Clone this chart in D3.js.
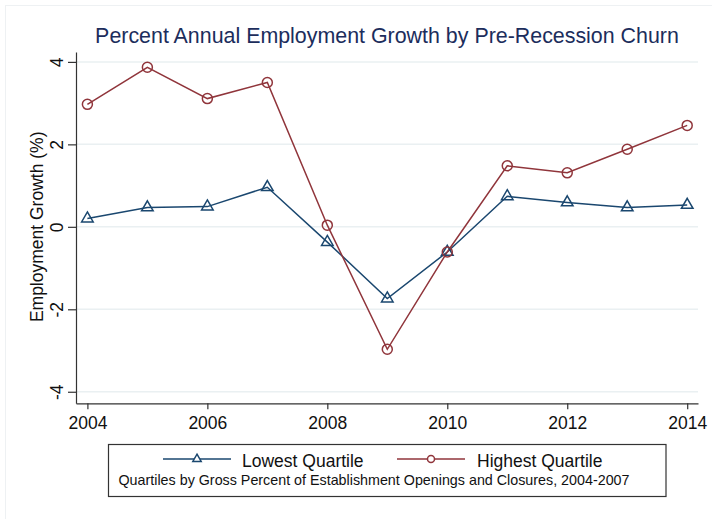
<!DOCTYPE html>
<html>
  <head>
    <meta charset="utf-8">
    <style>
      body { margin: 0; background: #fff; }
      svg { display: block; font-family: "Liberation Sans", Arial, Helvetica, sans-serif; }
      .grid line { stroke: #eaf0f2; stroke-width: 1.5; }
      .axis path, .axis line { stroke: #333; stroke-width: 1.2; }
      .axis text { font-size: 17.5px; fill: #111; }
      .series { fill: none; stroke-width: 1.5; }
    </style>
  </head>
  <body>
    <script src="https://d3js.org/d3.v7.min.js"></script>
    <svg></svg>
    <script>
      // data
      const years = [2004, 2005, 2006, 2007, 2008, 2009, 2010, 2011, 2012, 2013, 2014];
      const lowest = [0.2, 0.47, 0.49, 0.96, -0.37, -1.74, -0.61, 0.74, 0.59, 0.47, 0.53];
      const highest = [2.97, 3.87, 3.11, 3.5, 0.04, -2.97, -0.61, 1.48, 1.31, 1.88, 2.46];
      const yTicks = [-4, -2, 0, 2, 4];
      const xTicks = [2004, 2006, 2008, 2010, 2012, 2014];
      const seriesNames = ["Lowest Quartile", "Highest Quartile"];
      const colors = ["#1a476f", "#90353b"];

      const W = 712, H = 519;
      const plot = { left: 76, right: 698, top: 52, bottom: 403.3 };

      const svg = d3.select("svg").attr("width", W).attr("height", H);

      // faint outer frame
      svg.append("rect")
        .attr("x", 5.5).attr("y", 5.5)
        .attr("width", W + 20).attr("height", H + 20)
        .attr("fill", "none").attr("stroke", "#eef1f3").attr("stroke-width", 1);

      const x = d3.scaleLinear().domain([2003.81, 2014.18]).range([plot.left, plot.right]);
      const y = d3.scaleLinear().domain([-4.28, 4.24]).range([plot.bottom, plot.top]);

      // title
      svg.append("text")
        .attr("x", (plot.left + plot.right) / 2)
        .attr("y", 43)
        .attr("text-anchor", "middle")
        .attr("font-size", 21.4)
        .attr("fill", "#1c2d5c")
        .text("Percent Annual Employment Growth by Pre-Recession Churn");

      // gridlines
      svg.append("g").attr("class", "grid")
        .selectAll("line").data(yTicks).enter().append("line")
        .attr("x1", plot.left + 1).attr("x2", plot.right)
        .attr("y1", d => y(d)).attr("y2", d => y(d));

      // y axis
      const yAxis = svg.append("g").attr("class", "axis")
        .attr("transform", `translate(${plot.left},0)`)
        .call(d3.axisLeft(y).tickValues(yTicks).tickFormat(d => String(d)).tickSize(8).tickSizeOuter(0));
      yAxis.selectAll("text")
        .attr("transform", "rotate(-90)")
        .attr("text-anchor", "middle")
        .attr("x", 0).attr("y", -13.5).attr("dy", 0);

      // x axis
      svg.append("g").attr("class", "axis")
        .attr("transform", `translate(0,${plot.bottom})`)
        .call(d3.axisBottom(x).tickValues(xTicks).tickFormat(d => String(d)).tickSize(6).tickSizeOuter(0))
        .selectAll("text").attr("y", 9).attr("dy", "0.95em");

      // y axis title
      svg.append("text")
        .attr("transform", `translate(43,${y(0)}) rotate(-90)`)
        .attr("text-anchor", "middle")
        .attr("font-size", 17.5)
        .attr("fill", "#111")
        .text("Employment Growth (%)");

      // lines
      const line = d3.line().x(d => x(d[0])).y(d => y(d[1]));
      const dataSets = [lowest, highest].map(vals => years.map((yr, i) => [yr, vals[i]]));

      dataSets.forEach((ds, k) => {
        svg.append("path").datum(ds)
          .attr("class", "series")
          .attr("stroke", colors[k])
          .attr("d", line);
      });

      // markers
      const tri = d3.symbol().type(d3.symbolTriangle).size(58);
      svg.append("g").selectAll("path").data(dataSets[0]).enter().append("path")
        .attr("d", tri)
        .attr("transform", d => `translate(${x(d[0])},${y(d[1])})`)
        .attr("fill", "none").attr("stroke", colors[0]).attr("stroke-width", 1.5);

      svg.append("g").selectAll("circle").data(dataSets[1]).enter().append("circle")
        .attr("cx", d => x(d[0])).attr("cy", d => y(d[1])).attr("r", 5)
        .attr("fill", "none").attr("stroke", colors[1]).attr("stroke-width", 1.5);

      // legend
      const lg = svg.append("g");
      lg.append("rect")
        .attr("x", 108.5).attr("y", 444.5).attr("width", 557.5).attr("height", 52)
        .attr("fill", "#fff").attr("stroke", "#333").attr("stroke-width", 1.2);

      const items = [
        { x0: 163, x1: 231, tx: 242 },
        { x0: 397, x1: 465, tx: 477 }
      ];
      items.forEach((it, k) => {
        lg.append("line")
          .attr("x1", it.x0).attr("x2", it.x1).attr("y1", 459).attr("y2", 459)
          .attr("stroke", colors[k]).attr("stroke-width", 1.5);
        const mx = (it.x0 + it.x1) / 2;
        if (k === 0) {
          lg.append("path")
            .attr("d", d3.symbol().type(d3.symbolTriangle).size(30)())
            .attr("transform", `translate(${mx},459)`)
            .attr("fill", "#fff").attr("stroke", colors[k]).attr("stroke-width", 1.5);
        } else {
          lg.append("circle").attr("cx", mx).attr("cy", 459).attr("r", 3.5)
            .attr("fill", "#fff").attr("stroke", colors[k]).attr("stroke-width", 1.5);
        }
        lg.append("text")
          .attr("x", it.tx).attr("y", 466.5)
          .attr("font-size", 17.5).attr("fill", "#111")
          .text(seriesNames[k]);
      });

      lg.append("text")
        .attr("x", 118.5).attr("y", 485)
        .attr("font-size", 14.3).attr("fill", "#111")
        .text("Quartiles by Gross Percent of Establishment Openings and Closures, 2004-2007");
    </script>
  </body>
</html>
